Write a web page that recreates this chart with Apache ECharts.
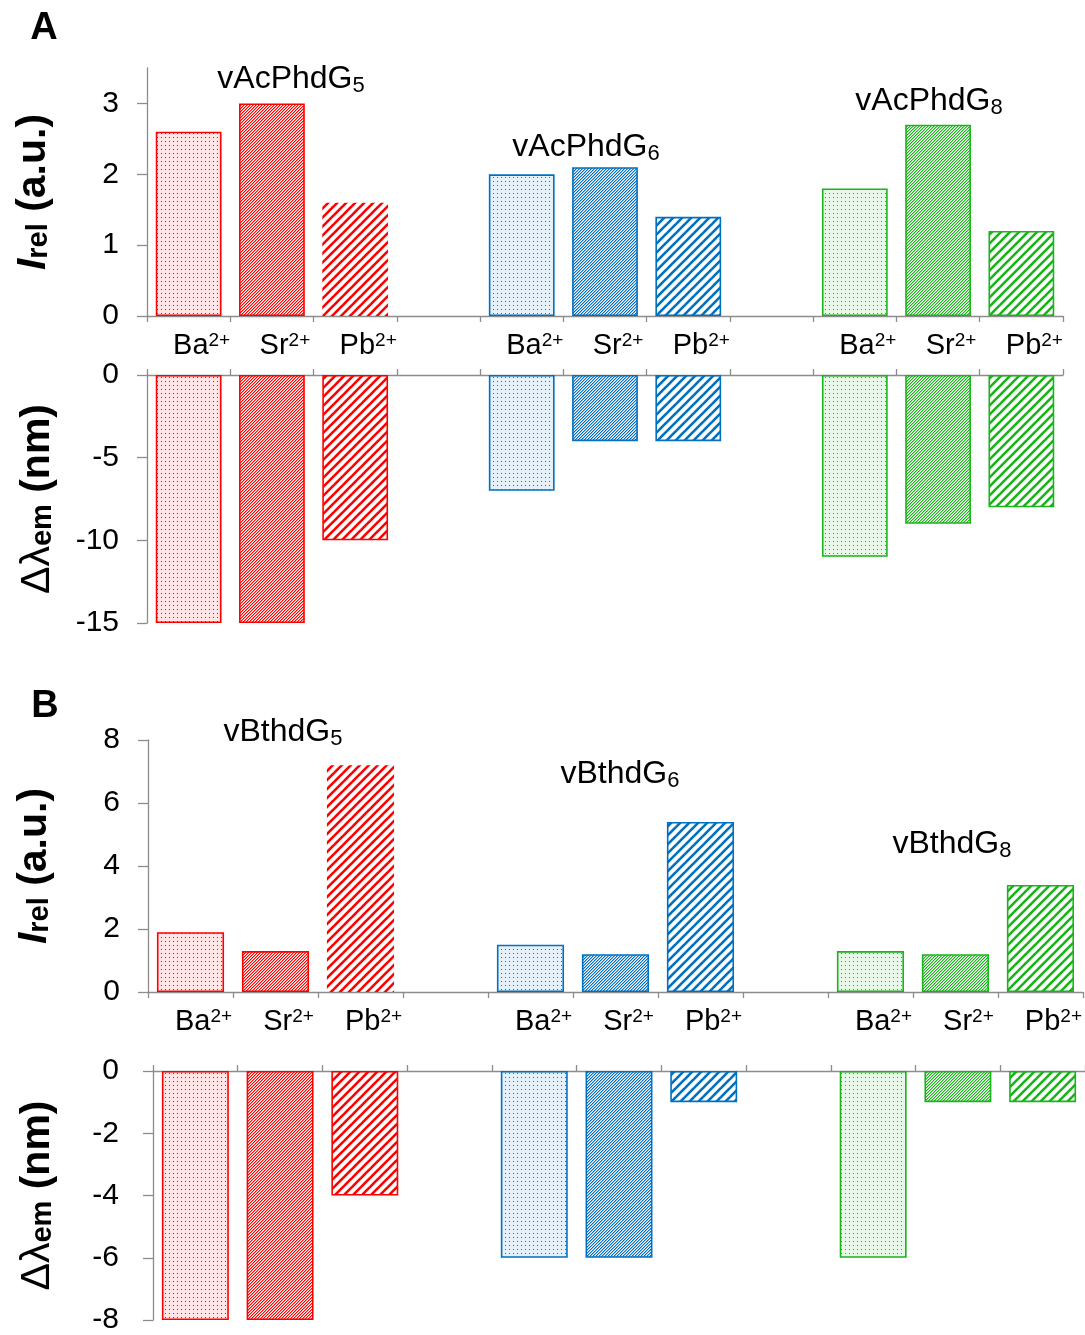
<!DOCTYPE html>
<html><head><meta charset="utf-8">
<script src="https://cdn.jsdelivr.net/npm/echarts@6/dist/echarts.min.js"></script>
<style>html,body{margin:0;padding:0;background:#fff}#c{width:1085px;height:1335px}</style>
</head><body><div id="c"></div>
<script>
// ---------- data ----------
const ions = ['Ba', 'Sr', 'Pb'];
const ionCharge = '2+';
const compoundsA = [['vAcPhdG', '5'], ['vAcPhdG', '6'], ['vAcPhdG', '8']];
const compoundsB = [['vBthdG', '5'], ['vBthdG', '6'], ['vBthdG', '8']];

// Panel A: relative intensity
const A_Irel_G5 = [2.6, 3.0, 1.6];
const A_Irel_G6 = [2.0, 2.1, 1.4];
const A_Irel_G8 = [1.8, 2.7, 1.2];
// Panel A: emission shift (nm)
const A_dLam_G5 = [-15, -15, -10];
const A_dLam_G6 = [-7, -4, -4];
const A_dLam_G8 = [-11, -9, -8];
// Panel B: relative intensity
const B_Irel_G5 = [1.9, 1.3, 7.2];
const B_Irel_G6 = [1.5, 1.2, 5.4];
const B_Irel_G8 = [1.3, 1.2, 3.4];
// Panel B: emission shift (nm)
const B_dLam_G5 = [-8, -8, -4];
const B_dLam_G6 = [-6, -6, -1];
const B_dLam_G8 = [-6, -1, -1];

// tick labels
const A_Irel_ticks = [0, 1, 2, 3];
const A_dLam_ticks = [-15, -10, -5, 0];
const B_Irel_ticks = [0, 2, 4, 6, 8];
const B_dLam_ticks = [-8, -6, -4, -2, 0];

// ---------- styles ----------
const FONT = "'Liberation Sans', Arial, sans-serif";
const groupColors = ['#FF0000', '#0070C0', '#19B419'];
const groupTints = ['rgba(255,0,0,0.10)', 'rgba(0,112,192,0.10)', 'rgba(25,180,25,0.10)'];
const groupHalf = ['rgba(255,0,0,0.45)', 'rgba(0,112,192,0.45)', 'rgba(25,180,25,0.45)'];
const axisGray = '#8c8c8c';

function makePattern(kind, g) {
  const color = groupColors[g];
  const c = document.createElement('canvas');
  const ctx = c.getContext('2d');
  if (kind === 'dot') {
    c.width = 4; c.height = 4;
    ctx.fillStyle = groupTints[g];
    ctx.fillRect(0, 0, 4, 4);
    ctx.fillStyle = color;
    ctx.fillRect(1, 1, 1, 1);
  } else if (kind === 'dense') {
    c.width = 3; c.height = 3;
    for (let x = 0; x < 3; x++) {
      for (let y = 0; y < 3; y++) {
        const m = (x + y) % 3;
        ctx.fillStyle = m === 0 ? color : (m === 1 ? groupHalf[g] : '#ffffff');
        ctx.fillRect(x, y, 1, 1);
      }
    }
  } else {
    c.width = 9; c.height = 9;
    ctx.strokeStyle = color;
    ctx.lineWidth = 2.6;
    for (let k = -1; k <= 1; k++) {
      ctx.beginPath();
      ctx.moveTo(k * 9 - 1, 10);
      ctx.lineTo(k * 9 + 10, -1);
      ctx.stroke();
    }
  }
  return { image: c, repeat: 'repeat' };
}
const patternKinds = ['dot', 'dense', 'sparse'];
const patterns = groupColors.map((col, g) => patternKinds.map(k => makePattern(k, g)));

// categories: 3 ions per group with a blank slot between groups
const categories = [];
for (let g = 0; g < 3; g++) {
  ions.forEach(ion => categories.push(ion + '|' + g));
  if (g < 2) categories.push('|' + g);
}

function buildData(groups, topPanel) {
  const out = [];
  groups.forEach((vals, g) => {
    vals.forEach((v, k) => {
      const noBorder = topPanel && g === 0 && k === 2;
      out.push({
        value: v,
        itemStyle: {
          color: patterns[g][k],
          borderColor: groupColors[g],
          borderWidth: noBorder ? 0 : 1.6
        }
      });
    });
    if (g < 2) out.push('-');
  });
  return out;
}

const grids = [
  { left: 147, top: 68, width: 916, height: 248 },
  { left: 147, top: 375, width: 916, height: 248 },
  { left: 148, top: 740, width: 935, height: 252 },
  { left: 153, top: 1071, width: 935, height: 252 }
];

const IrelName = '{i|I}{s|rel}{n| (a.u.)}';
const dLamName = '{d|Δλ}{s|em}{n| (nm)}';
const nameRich = {
  i: { fontSize: 41, fontWeight: 'bold', fontStyle: 'italic', fontFamily: FONT, color: '#000', lineHeight: 40, verticalAlign: 'top' },
  d: { fontSize: 41, fontWeight: 'normal', fontFamily: FONT, color: '#000', lineHeight: 40, verticalAlign: 'top' },
  s: { fontSize: 29, fontWeight: 'bold', fontFamily: FONT, color: '#000', lineHeight: 24, verticalAlign: 'bottom' },
  n: { fontSize: 41, fontWeight: 'bold', fontFamily: FONT, color: '#000', lineHeight: 40, verticalAlign: 'top' }
};

function xAxisFor(i, showLabels) {
  return {
    type: 'category', gridIndex: i, data: categories,
    position: showLabels ? 'bottom' : 'top',
    axisLine: { show: true, onZero: false, lineStyle: { color: axisGray, width: 1.3 } },
    axisTick: { show: true, length: 6, lineStyle: { color: axisGray, width: 1.3 } },
    axisLabel: {
      show: showLabels, interval: 0, margin: 15, padding: [0, 0, 0, 26],
      formatter: v => { const n = v.split('|')[0]; return n ? '{n|' + n + '}{s|' + ionCharge + '}' : ''; },
      rich: {
        n: { fontSize: 29, fontFamily: FONT, color: '#000', lineHeight: 30, verticalAlign: 'middle' },
        s: { fontSize: 19, fontFamily: FONT, color: '#000', lineHeight: 22, verticalAlign: 'top' }
      }
    },
    splitLine: { show: false }
  };
}

function yAxisFor(i, min, max, interval, ticks, name, gap, labelMargin) {
  return {
    type: 'value', gridIndex: i, min: min, max: max, interval: interval,
    name: name, nameLocation: 'middle', nameGap: gap, nameRotate: 90,
    nameTextStyle: { rich: nameRich },
    axisLine: { show: true, lineStyle: { color: axisGray, width: 1.3 } },
    axisTick: { show: true, length: 10, customValues: ticks, lineStyle: { color: axisGray, width: 1.3 } },
    axisLabel: { customValues: ticks, margin: labelMargin, fontSize: 30, fontFamily: FONT, color: '#000' },
    splitLine: { show: false }
  };
}

function annot(x, y, parts) {
  return {
    type: 'text', x: x, y: y,
    style: {
      text: '{a|' + parts[0] + '}{b|' + parts[1] + '}',
      align: 'center', verticalAlign: 'middle',
      rich: {
        a: { fontSize: 32, fontFamily: FONT, fill: '#000', lineHeight: 34, verticalAlign: 'top' },
        b: { fontSize: 22, fontFamily: FONT, fill: '#000', lineHeight: 19, verticalAlign: 'bottom' }
      }
    }
  };
}

const barGap = '21%';
const option = {
  animation: false,
  backgroundColor: '#ffffff',
  grid: grids,
  xAxis: [xAxisFor(0, true), xAxisFor(1, false), xAxisFor(2, true), xAxisFor(3, false)],
  yAxis: [
    yAxisFor(0, 0, 3.5, 1, A_Irel_ticks, IrelName, 94, 28),
    yAxisFor(1, -15, 0, 5, A_dLam_ticks, dLamName, 90, 28),
    yAxisFor(2, 0, 8, 2, B_Irel_ticks, IrelName, 94, 28),
    yAxisFor(3, -8, 0, 2, B_dLam_ticks, dLamName, 96, 34)
  ],
  series: [
    { type: 'bar', xAxisIndex: 0, yAxisIndex: 0, barCategoryGap: barGap, data: buildData([A_Irel_G5, A_Irel_G6, A_Irel_G8], true) },
    { type: 'bar', xAxisIndex: 1, yAxisIndex: 1, barCategoryGap: barGap, data: buildData([A_dLam_G5, A_dLam_G6, A_dLam_G8], false) },
    { type: 'bar', xAxisIndex: 2, yAxisIndex: 2, barCategoryGap: barGap, data: buildData([B_Irel_G5, B_Irel_G6, B_Irel_G8], true) },
    { type: 'bar', xAxisIndex: 3, yAxisIndex: 3, barCategoryGap: barGap, data: buildData([B_dLam_G5, B_dLam_G6, B_dLam_G8], false) }
  ],
  graphic: [
    { type: 'text', x: 44, y: 29, style: { text: 'A', fontSize: 38, fontWeight: 'bold', fontFamily: FONT, fill: '#000', align: 'center', verticalAlign: 'middle' } },
    { type: 'text', x: 45, y: 707, style: { text: 'B', fontSize: 38, fontWeight: 'bold', fontFamily: FONT, fill: '#000', align: 'center', verticalAlign: 'middle' } },
    annot(291, 80, compoundsA[0]),
    annot(586, 148, compoundsA[1]),
    annot(929, 102, compoundsA[2]),
    annot(283, 733, compoundsB[0]),
    annot(620, 775, compoundsB[1]),
    annot(952, 845, compoundsB[2])
  ]
};

const chart = echarts.init(document.getElementById('c'), null, { renderer: 'canvas' });
chart.setOption(option);
</script>
</body></html>
